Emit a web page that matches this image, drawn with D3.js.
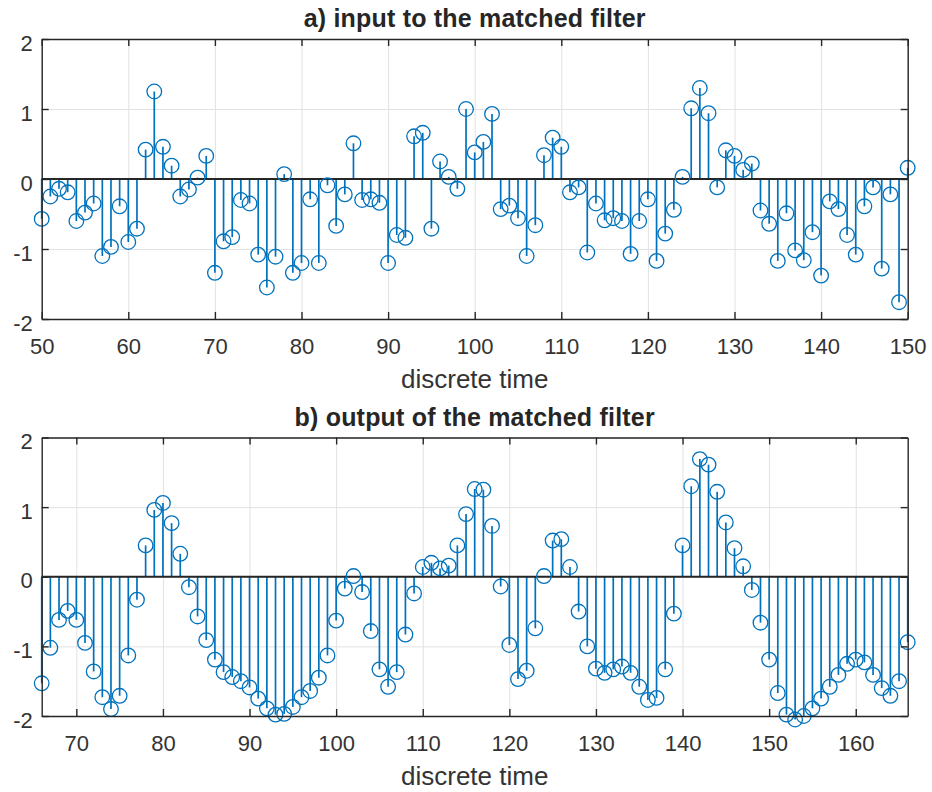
<!DOCTYPE html>
<html lang="en">

<head>
  <meta charset="utf-8">
  <title>Matched filter</title>
  <script src="https://d3js.org/d3.v7.min.js"></script>
</head>

<body style="margin:0;background:#fff">
  <div id="chart"></div>

  <style>
    #chart text {
      font-family: "Liberation Sans", Arial, Helvetica, sans-serif;
      fill: #262626;
    }
    #chart .tick text { font-size: 22px; }
    #chart .grid line { stroke: #e2e2e2; stroke-width: 1; }
    #chart .grid path { display: none; }
    #chart .frame path, #chart .frame line { stroke: #262626; stroke-width: 1.4; }
  </style>

  <script type="text/javascript">
    "use strict"

    // a) input to the matched filter, n = 50 .. 150
    var inputStart = 50;
    var inputValues = [
      -0.57, -0.25, -0.14, -0.19, -0.60, -0.48, -0.35, -1.10, -0.97, -0.39,
      -0.90, -0.71, 0.42, 1.25, 0.46, 0.19, -0.25, -0.15, 0.02, 0.33,
      -1.34, -0.89, -0.83, -0.30, -0.35, -1.08, -1.55, -1.11, 0.07, -1.34,
      -1.20, -0.29, -1.20, -0.09, -0.67, -0.22, 0.51, -0.30, -0.29, -0.34,
      -1.20, -0.80, -0.84, 0.61, 0.66, -0.71, 0.25, 0.03, -0.14, 1.00,
      0.38, 0.53, 0.93, -0.43, -0.38, -0.56, -1.10, -0.66, 0.34, 0.59,
      0.46, -0.19, -0.12, -1.05, -0.35, -0.59, -0.56, -0.60, -1.07, -0.60,
      -0.29, -1.17, -0.78, -0.44, 0.03, 1.01, 1.30, 0.94, -0.12, 0.41,
      0.33, 0.13, 0.22, -0.45, -0.64, -1.17, -0.49, -1.02, -1.16, -0.76,
      -1.38, -0.32, -0.43, -0.80, -1.08, -0.39, -0.12, -1.28, -0.22, -1.76,
      0.16
    ];
    var inputDomain = [50, 150];
    var inputTicks = [50, 60, 70, 80, 90, 100, 110, 120, 130, 140, 150];

    // b) output of the matched filter, n = 66 .. 166
    var outputStart = 66;
    var outputValues = [
      -1.53, -1.02, -0.62, -0.49, -0.62, -0.95, -1.36, -1.73, -1.90, -1.71,
      -1.13, -0.33, 0.45, 0.96, 1.06, 0.77, 0.33, -0.15, -0.57, -0.91,
      -1.19, -1.37, -1.44, -1.50, -1.59, -1.75, -1.89, -1.98, -1.97, -1.87,
      -1.73, -1.64, -1.45, -1.13, -0.63, -0.17, 0.01, -0.22, -0.78, -1.33,
      -1.58, -1.37, -0.83, -0.24, 0.14, 0.20, 0.12, 0.16, 0.45, 0.90,
      1.26, 1.25, 0.73, -0.14, -0.98, -1.47, -1.35, -0.74, 0.01, 0.52,
      0.54, 0.14, -0.50, -1.00, -1.32, -1.38, -1.33, -1.29, -1.38, -1.58,
      -1.77, -1.74, -1.33, -0.53, 0.45, 1.30, 1.69, 1.61, 1.22, 0.78,
      0.41, 0.15, -0.19, -0.66, -1.19, -1.67, -1.98, -2.05, -2.00, -1.89,
      -1.75, -1.58, -1.41, -1.25, -1.19, -1.23, -1.41, -1.60, -1.71, -1.50,
      -0.94
    ];
    var outputDomain = [66, 166];
    var outputTicks = [70, 80, 90, 100, 110, 120, 130, 140, 150, 160];

    var yDomain = [-2, 2];
    var yTicks = [-2, -1, 0, 1, 2];

    var cor = "#0072BD";

    var svg = d3.select('#chart')
                .append('svg')
                  .attr('width', 932)
                  .attr('height', 792);

    function desenhaStem(cfg) {
      var larguraVis = 866, alturaVis = cfg.altura;

      var g = svg.append('g')
                 .attr('transform', 'translate(' + 41.7 + ',' + cfg.top + ')');

      var x = d3.scaleLinear().domain(cfg.dominio).range([0, larguraVis]);
      var y = d3.scaleLinear().domain(yDomain).range([alturaVis, 0]);

      var dados = cfg.valores.map(function(v, i) { return {n: cfg.inicio + i, v: v}; });

      // grid
      g.append('g').attr('class', 'grid')
       .attr('transform', 'translate(0,' + alturaVis + ')')
       .call(d3.axisBottom(x).tickValues(cfg.ticks).tickSize(-alturaVis).tickFormat(''));
      g.append('g').attr('class', 'grid')
       .call(d3.axisLeft(y).tickValues(yTicks).tickSize(-larguraVis).tickFormat(''));

      // stems
      g.selectAll('line.stem')
       .data(dados)
       .enter()
       .append('line')
         .attr('class', 'stem')
         .attr('x1', d => x(d.n))
         .attr('x2', d => x(d.n))
         .attr('y1', y(0))
         .attr('y2', d => y(d.v))
         .style('stroke', cor)
         .style('stroke-width', 1.7);

      // baseline
      g.append('line')
       .attr('x1', 0).attr('x2', larguraVis)
       .attr('y1', y(0)).attr('y2', y(0))
       .style('stroke', '#262626')
       .style('stroke-width', 1.8);

      // markers
      g.selectAll('circle')
       .data(dados)
       .enter()
       .append('circle')
         .attr('cx', d => x(d.n))
         .attr('cy', d => y(d.v))
         .attr('r', 7.3)
         .style('fill', 'none')
         .style('stroke', cor)
         .style('stroke-width', 1.3);

      // axes box with inward ticks
      var fmt = function(d) { return String(d); };
      g.append('g').attr('class', 'frame')
       .attr('transform', 'translate(0,' + alturaVis + ')')
       .call(d3.axisBottom(x).tickValues(cfg.ticks).tickSizeInner(-7).tickSizeOuter(0)
               .tickPadding(19).tickFormat(fmt));
      g.append('g').attr('class', 'frame')
       .call(d3.axisTop(x).tickValues(cfg.ticks).tickSizeInner(-7).tickSizeOuter(0).tickFormat(''));
      var eixoY = g.append('g').attr('class', 'frame')
       .call(d3.axisLeft(y).tickValues(yTicks).tickSizeInner(-7).tickSizeOuter(0)
               .tickPadding(9).tickFormat(fmt));
      eixoY.selectAll('.tick text').attr('dy', '0.5em');
      g.append('g').attr('class', 'frame')
       .attr('transform', 'translate(' + larguraVis + ',0)')
       .call(d3.axisRight(y).tickValues(yTicks).tickSizeInner(-7).tickSizeOuter(0).tickFormat(''));

      g.selectAll('.frame .tick text').style('fill', '#333333');

      // titulo e rotulo
      g.append('text')
       .attr('x', larguraVis / 2)
       .attr('y', -12)
       .attr('text-anchor', 'middle')
       .style('font-size', '25px')
       .style('font-weight', 'bold')
       .style('letter-spacing', '0.2px')
       .text(cfg.titulo);

      g.append('text')
       .attr('x', larguraVis / 2)
       .attr('y', alturaVis + 69)
       .attr('text-anchor', 'middle')
       .style('font-size', '26px')
       .style('fill', '#333333')
       .text('discrete time');
    }

    desenhaStem({top: 39, altura: 280, dominio: inputDomain, ticks: inputTicks,
                 inicio: inputStart, valores: inputValues,
                 titulo: 'a) input to the matched filter'});

    desenhaStem({top: 437.5, altura: 278.5, dominio: outputDomain, ticks: outputTicks,
                 inicio: outputStart, valores: outputValues,
                 titulo: 'b) output of the matched filter'});

  </script>
</body>

</html>
